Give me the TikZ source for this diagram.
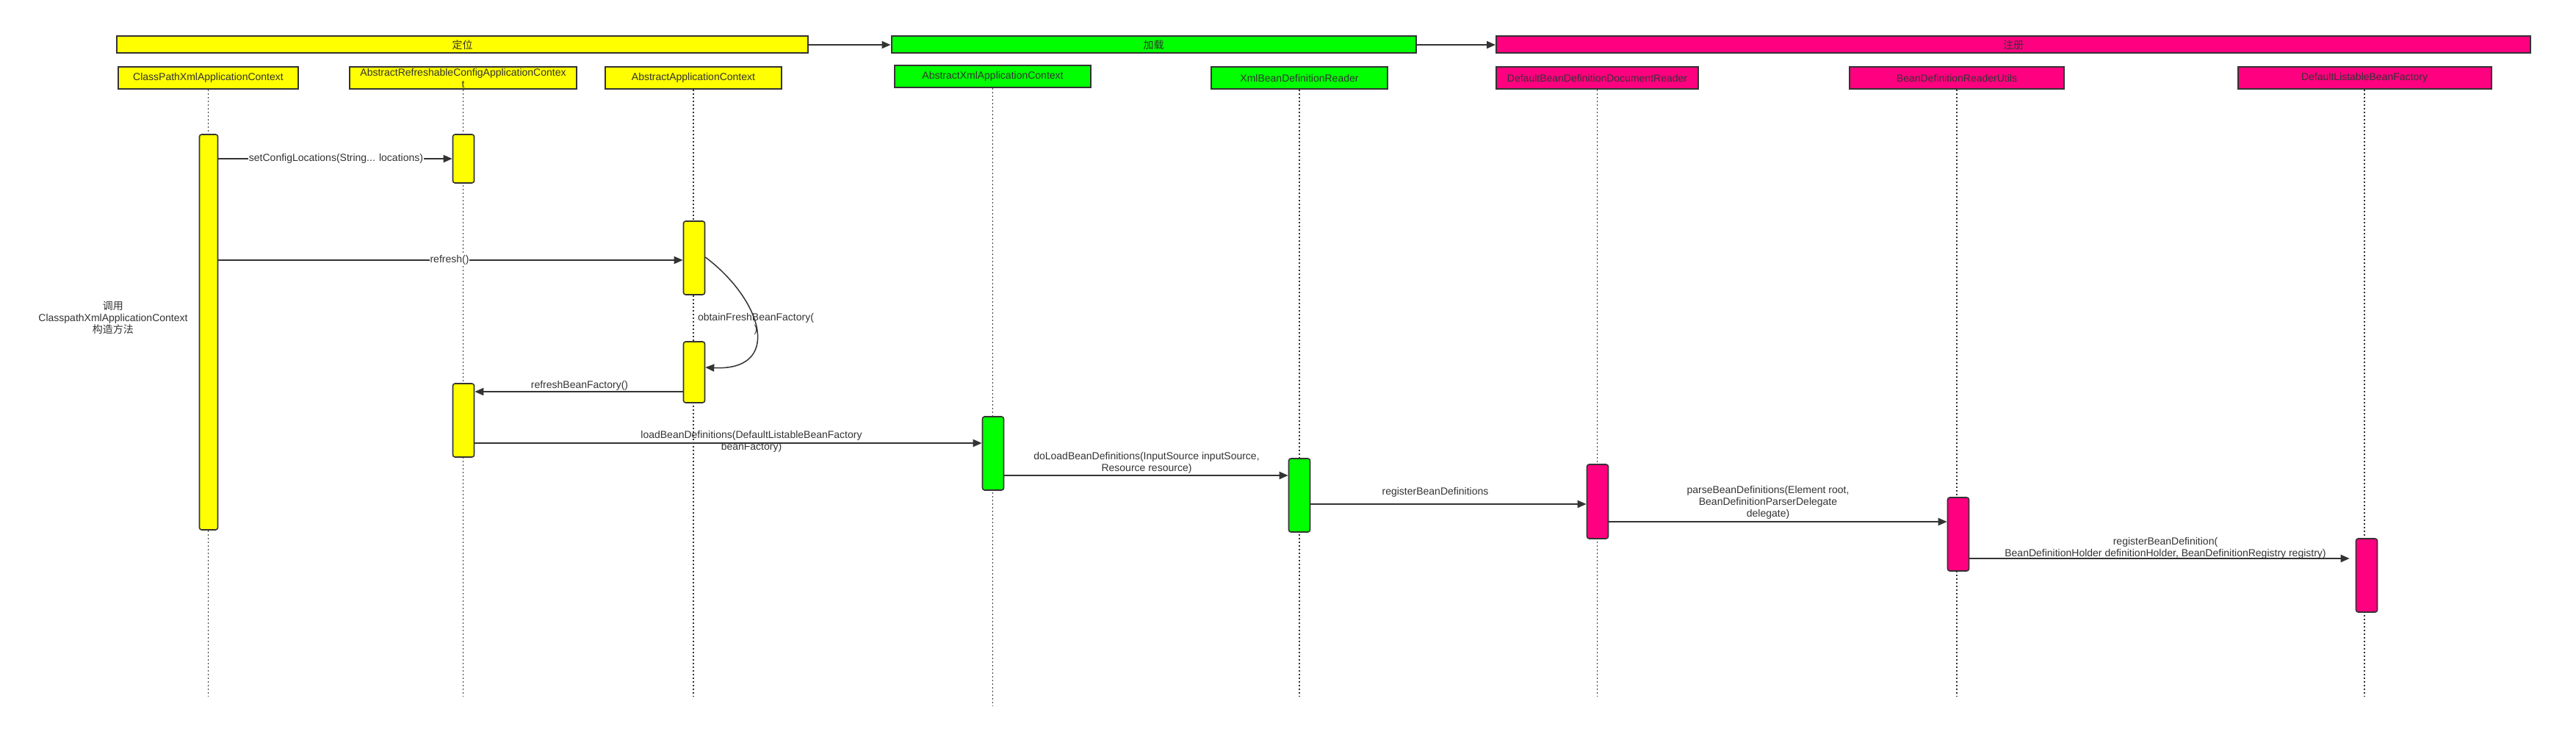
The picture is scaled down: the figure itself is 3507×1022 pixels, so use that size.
\documentclass[tikz,border=0pt]{standalone}
\usepackage{fontspec}
\setmainfont{Liberation Sans}
\newfontfamily\cjk{Noto Sans CJK SC}
\usetikzlibrary{arrows.meta}
\definecolor{ink}{HTML}{333333}
\definecolor{yel}{HTML}{FFFF00}
\definecolor{grn}{HTML}{00FF00}
\definecolor{mag}{HTML}{FF0080}
\begin{document}
\begin{tikzpicture}[x=1pt,y=-1pt,
  every node/.style={font=\fontsize{14}{16}\selectfont, text=ink},
  phase/.style={draw=ink, line width=2pt, minimum height=23pt, inner sep=0pt},
  head/.style={draw=ink, line width=2pt, minimum height=30pt, inner sep=0pt, align=center},
  act/.style={draw=ink, line width=1.6pt, rounded corners=3pt, minimum width=29pt, inner sep=0pt},
  life/.style={draw=ink, line width=1.2pt, dash pattern=on 2pt off 3pt},
  msg/.style={draw=ink, line width=2pt, -{Triangle[length=12pt,width=10pt]}},
  lbl/.style={inner sep=1pt, align=center},
]
\fill[white] (0,0) rectangle (3507,1022);
\useasboundingbox (0,0) rectangle (3507,1022);

% phase bars
\node[phase, fill=yel, minimum width=941pt] (p1) at (629.5,61) {\cjk 定位};
\node[phase, fill=grn, minimum width=714pt] (p2) at (1570.5,61) {\cjk 加载};
\node[phase, fill=mag, minimum width=1408pt] (p3) at (2741,61) {\cjk 注册};
\draw[msg] (p1) -- (p2);
\draw[msg] (p2) -- (p3);

% lifeline heads
\node[head, fill=yel, minimum width=245pt] (h1) at (283.5,106) {ClassPathXmlApplicationContext};
\node[head, fill=yel, minimum width=309pt] (h2) at (630.5,106) {AbstractRefreshableConfigApplicationContex\\t};
\node[head, fill=yel, minimum width=240pt] (h3) at (944,106) {AbstractApplicationContext};
\node[head, fill=grn, minimum width=267pt] (h4) at (1351.5,104) {AbstractXmlApplicationContext};
\node[head, fill=grn, minimum width=240pt] (h5) at (1769,106) {XmlBeanDefinitionReader};
\node[head, fill=mag, minimum width=275pt] (h6) at (2174.5,106) {DefaultBeanDefinitionDocumentReader};
\node[head, fill=mag, minimum width=292pt] (h7) at (2664,106) {BeanDefinitionReaderUtils};
\node[head, fill=mag, minimum width=345pt] (h8) at (3219,106) {DefaultListableBeanFactory};

% lifeline ends
\coordinate (e1) at (h1.south |- 0,948);
\coordinate (e2) at (h2.south |- 0,948);
\coordinate (e3) at (h3.south |- 0,948);
\coordinate (e4) at (h4.south |- 0,961);
\coordinate (e5) at (h5.south |- 0,948);
\coordinate (e6) at (h6.south |- 0,948);
\coordinate (e7) at (h7.south |- 0,948);
\coordinate (e8) at (h8.south |- 0,948);
\foreach \i in {1,...,8} {\draw[life] (h\i.south) -- (e\i);}

% activations
\node[act, fill=yel, minimum width=25pt, minimum height=538pt] (a1) at (284,452) {};
\node[act, fill=yel, minimum height=66pt] (a2) at (631,216) {};
\node[act, fill=yel, minimum height=100pt] (a3) at (945,351) {};
\node[act, fill=yel, minimum height=83pt] (a4) at (945,506.5) {};
\node[act, fill=yel, minimum height=100pt] (a5) at (631,572) {};
\node[act, fill=grn, minimum height=100pt] (a6) at (1352,617) {};
\node[act, fill=grn, minimum height=100pt] (a7) at (1769,674) {};
\node[act, fill=mag, minimum height=101pt] (a8) at (2175,682.5) {};
\node[act, fill=mag, minimum height=100pt] (a9) at (2666,727) {};
\node[act, fill=mag, minimum height=100pt] (a10) at (3222,783) {};

% messages
\draw[msg] (a1.east |- 0,216) -- (a2.west |- 0,216);
\draw[msg] (a1.east |- 0,354) -- (a3.west |- 0,354);
\draw[msg, line width=1.5pt] (a3.east |- 0,350) .. controls (1040,410) and (1065,505) .. (a4.east |- 0,500);
\draw[msg] (a4.west |- 0,533) -- (a5.east |- 0,533);
\draw[msg] (a5.east |- 0,603) -- (a6.west |- 0,603);
\draw[msg] (a6.east |- 0,647) -- (a7.west |- 0,647);
\draw[msg] (a7.east |- 0,686) -- (a8.west |- 0,686);
\draw[msg] (a8.east |- 0,710) -- (a9.west |- 0,710);
\draw[msg] (a9.east |- 0,760) -- ([xshift=-8pt]a10.west |- 0,760);

% labels
\node[lbl, fill=white] (l1) at (457.5,216) {setConfigLocations(String... locations)};
\node[lbl, fill=white] (l2) at (612,354) {refresh()};
\node[lbl] (l3) at (1029,441) {obtainFreshBeanFactory(\\)};
\node[lbl] (l4) at (789,525) {refreshBeanFactory()};
\node[lbl] (l5) at (1023,601) {loadBeanDefinitions(DefaultListableBeanFactory\\beanFactory)};
\node[lbl] (l6) at (1561,629.5) {doLoadBeanDefinitions(InputSource inputSource,\\Resource resource)};
\node[lbl] (l7) at (1954,670) {registerBeanDefinitions};
\node[lbl] (l8) at (2407,684) {parseBeanDefinitions(Element root,\\BeanDefinitionParserDelegate\\delegate)};
\node[lbl] (l9) at (2948,745.5) {registerBeanDefinition(\\BeanDefinitionHolder definitionHolder, BeanDefinitionRegistry registry)};

\node[lbl] (note) at (154,432) {{\cjk 调用}\\ClasspathXmlApplicationContext\\{\cjk 构造方法}};
\end{tikzpicture}
\end{document}
